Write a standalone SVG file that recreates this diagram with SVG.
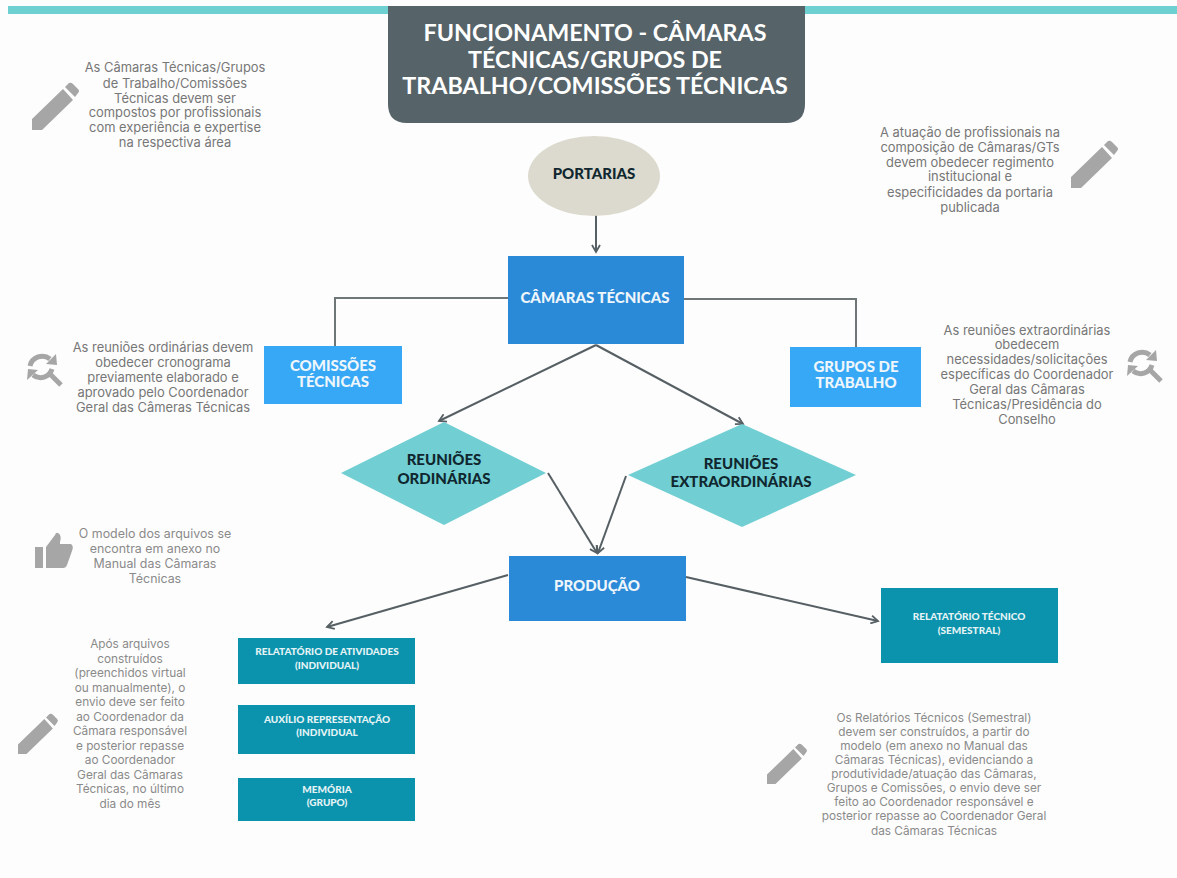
<svg xmlns="http://www.w3.org/2000/svg" width="1177" height="878" viewBox="0 0 1177 878">
<defs>
<marker id="ah" markerWidth="10" markerHeight="10" refX="8" refY="5" orient="auto" markerUnits="userSpaceOnUse"><path d="M1 1L8 5L1 9" fill="none" stroke="#565f63" stroke-width="1.8"/></marker>
<path id="pencil" d="M0 47L0 36L31 6L41 17L10 47ZM33 4L37 0Q39 -1 41 1L46 6Q48 8 46 10L43 14Z" fill="#a6a6a6"/>
<g id="search" fill="none" stroke="#a6a6a6"><path d="M3 14A12.5 12.5 0 0 1 23 7" stroke-width="5"/><path d="M25 17A12 12 0 0 1 6 23" stroke-width="5"/><path d="M19 12L29 2L30 13Z" fill="#a6a6a6" stroke="none"/><path d="M0 28L1 17L11 18Z" fill="#a6a6a6" stroke="none"/><path d="M22 21L34 33" stroke-width="5"/></g>
</defs>
<style>
text{font-family:"Lato","Liberation Sans",sans-serif;text-anchor:middle}
.n{font-family:"Inter","Liberation Sans",sans-serif;font-size:12.9px;fill:#777}
.m{font-size:12.4px;fill:#8a8a8a}
.l{font-size:11.8px;fill:#8a8a8a}
.t{font-size:23.3px;font-weight:700;fill:#fff}
.b{font-weight:900;font-size:15px;fill:#10272f}
.w{font-weight:900;font-size:15px;fill:#eef6fb}
.s{font-weight:900;font-size:10px;fill:#e6f3f6}
.c{fill:none;stroke:#565f63;stroke-width:2}
.h{fill:none;stroke:#6f7678;stroke-width:2}
</style>
<rect width="1177" height="878" fill="#fdfdfd"/>
<rect x="8" y="6" width="1169" height="8" fill="#6fd0d2"/>
<g id="connectors">
<path class="c" d="M596 215V252" marker-end="url(#ah)"/>
<path class="h" d="M508 298H335V346"/>
<path class="h" d="M684 299H856V347"/>
<path class="c" d="M596 345L439 421" marker-end="url(#ah)"/>
<path class="c" d="M596 345L743 424" marker-end="url(#ah)"/>
<path class="c" d="M548 473L597 553" marker-end="url(#ah)"/>
<path class="c" d="M626 476L598 553" marker-end="url(#ah)"/>
<path class="c" d="M508 575L327 627" marker-end="url(#ah)"/>
<path class="c" d="M686 577L878 621" marker-end="url(#ah)"/>
</g>
<g id="title"><path d="M388 6H805V104Q805 123 786 123H407Q388 123 388 104Z" fill="#566369"/>
<text class="t" x="595" y="41">FUNCIONAMENTO - CÂMARAS</text><text class="t" x="595" y="68">TÉCNICAS/GRUPOS DE</text><text class="t" x="595" y="94">TRABALHO/COMISSÕES TÉCNICAS</text></g>
<g id="portarias"><ellipse cx="594" cy="176" rx="66" ry="40" fill="#dcdace"/><text class="b" x="594" y="179">PORTARIAS</text></g>
<g id="camaras"><rect x="508" y="256" width="176" height="88" fill="#2b8ad8"/><text class="w" x="595" y="303">CÂMARAS TÉCNICAS</text></g>
<g id="comissoes"><rect x="264" y="346" width="138" height="58" fill="#37a8f5"/><text class="w" x="333" y="371">COMISSÕES</text><text class="w" x="333" y="387">TÉCNICAS</text></g>
<g id="grupos"><rect x="790" y="347" width="131" height="60" fill="#37a8f5"/><text class="w" x="856" y="372">GRUPOS DE</text><text class="w" x="856" y="388">TRABALHO</text></g>
<g id="ordinarias"><path d="M341 473L444 422L546 473L444 525Z" fill="#71cfd3"/><text class="b" x="444" y="465">REUNIÕES</text><text class="b" x="444" y="484">ORDINÁRIAS</text></g>
<g id="extraordinarias"><path d="M628 475L742 424L856 475L742 527Z" fill="#71cfd3"/><text class="b" x="741" y="469">REUNIÕES</text><text class="b" x="741" y="487">EXTRAORDINÁRIAS</text></g>
<g id="producao"><rect x="509" y="556" width="177" height="65" fill="#2b8ad8"/><text class="w" x="597" y="591">PRODUÇÃO</text></g>
<g id="rel-atividades"><rect x="238" y="638" width="177" height="46" fill="#0b93ad"/><text class="s" x="327" y="655">RELATATÓRIO DE ATIVIDADES</text><text class="s" x="327" y="669">(INDIVIDUAL)</text></g>
<g id="auxilio"><rect x="238" y="705" width="177" height="49" fill="#0b93ad"/><text class="s" x="327" y="723">AUXÍLIO REPRESENTAÇÃO</text><text class="s" x="327" y="736">(INDIVIDUAL</text></g>
<g id="memoria"><rect x="238" y="778" width="177" height="43" fill="#0b93ad"/><text class="s" x="327" y="793">MEMÓRIA</text><text class="s" x="327" y="806">(GRUPO)</text></g>
<g id="rel-tecnico"><rect x="881" y="588" width="177" height="75" fill="#0b93ad"/><text class="s" x="969" y="620">RELATATÓRIO TÉCNICO</text><text class="s" x="969" y="634">(SEMESTRAL)</text></g>
<g id="note-1"><use href="#pencil" x="32" y="83"/><text class="n" x="175" y="72">As Câmaras Técnicas/Grupos</text><text class="n" x="175" y="88">de Trabalho/Comissões</text><text class="n" x="175" y="103">Técnicas devem ser</text><text class="n" x="175" y="117">compostos por profissionais</text><text class="n" x="175" y="132">com experiência e expertise</text><text class="n" x="175" y="147">na  respectiva área</text></g>
<g id="note-2"><use href="#pencil" x="1071" y="141"/><text class="n" x="970" y="137">A atuação de profissionais na</text><text class="n" x="970" y="152">composição de Câmaras/GTs</text><text class="n" x="970" y="167">devem obedecer regimento</text><text class="n" x="970" y="181">institucional e</text><text class="n" x="970" y="197">especificidades da portaria</text><text class="n" x="970" y="212">publicada</text></g>
<g id="note-3"><use href="#search" x="27" y="352"/><text class="n" x="163" y="352">As reuniões ordinárias devem</text><text class="n" x="163" y="367">obedecer cronograma</text><text class="n" x="163" y="382">previamente elaborado e</text><text class="n" x="163" y="397">aprovado pelo Coordenador</text><text class="n" x="163" y="412">Geral das Câmeras Técnicas</text></g>
<g id="note-4"><use href="#search" x="1127" y="348"/><text class="n" x="1027" y="335">As reuniões extraordinárias</text><text class="n" x="1027" y="349">obedecem</text><text class="n" x="1027" y="364">necessidades/solicitações</text><text class="n" x="1027" y="379">específicas do Coordenador</text><text class="n" x="1027" y="394">Geral das Câmaras</text><text class="n" x="1027" y="409">Técnicas/Presidência do</text><text class="n" x="1027" y="424">Conselho</text></g>
<g id="note-5"><path d="M35 547H43V568H35ZM46 547L55 535Q56 532 58 533Q62 535 60 542L60 544H71Q74 546 72 551L67 565Q66 568 63 568H46Z" fill="#a6a6a6"/><text class="n m" x="155" y="538">O modelo dos arquivos se</text><text class="n m" x="155" y="553">encontra em anexo no</text><text class="n m" x="155" y="568">Manual das Câmaras</text><text class="n m" x="155" y="583">Técnicas</text></g>
<g id="note-6"><use href="#pencil" transform="translate(18 714) scale(.85)"/><text class="n l" x="130" y="648">Após arquivos</text><text class="n l" x="130" y="663">construídos</text><text class="n l" x="130" y="677">(preenchidos virtual</text><text class="n l" x="130" y="692">ou manualmente), o</text><text class="n l" x="130" y="706">envio deve ser feito</text><text class="n l" x="130" y="721">ao Coordenador da</text><text class="n l" x="130" y="735">Câmara responsável</text><text class="n l" x="130" y="750">e posterior repasse</text><text class="n l" x="130" y="764">ao Coordenador</text><text class="n l" x="130" y="779">Geral das Câmaras</text><text class="n l" x="130" y="793">Técnicas, no último</text><text class="n l" x="130" y="808">dia do mês</text></g>
<g id="note-7"><use href="#pencil" transform="translate(767 744) scale(.85)"/><text class="n l" x="934" y="722">Os Relatórios Técnicos (Semestral)</text><text class="n l" x="934" y="736">devem ser construídos, a partir do</text><text class="n l" x="934" y="750">modelo (em anexo no Manual das</text><text class="n l" x="934" y="764">Câmaras Técnicas), evidenciando a</text><text class="n l" x="934" y="778">produtividade/atuação das Câmaras,</text><text class="n l" x="934" y="792">Grupos e Comissões, o envio deve ser</text><text class="n l" x="934" y="806">feito ao Coordenador responsável e</text><text class="n l" x="934" y="820">posterior repasse ao Coordenador Geral</text><text class="n l" x="934" y="835">das Câmaras Técnicas</text></g>
</svg>
